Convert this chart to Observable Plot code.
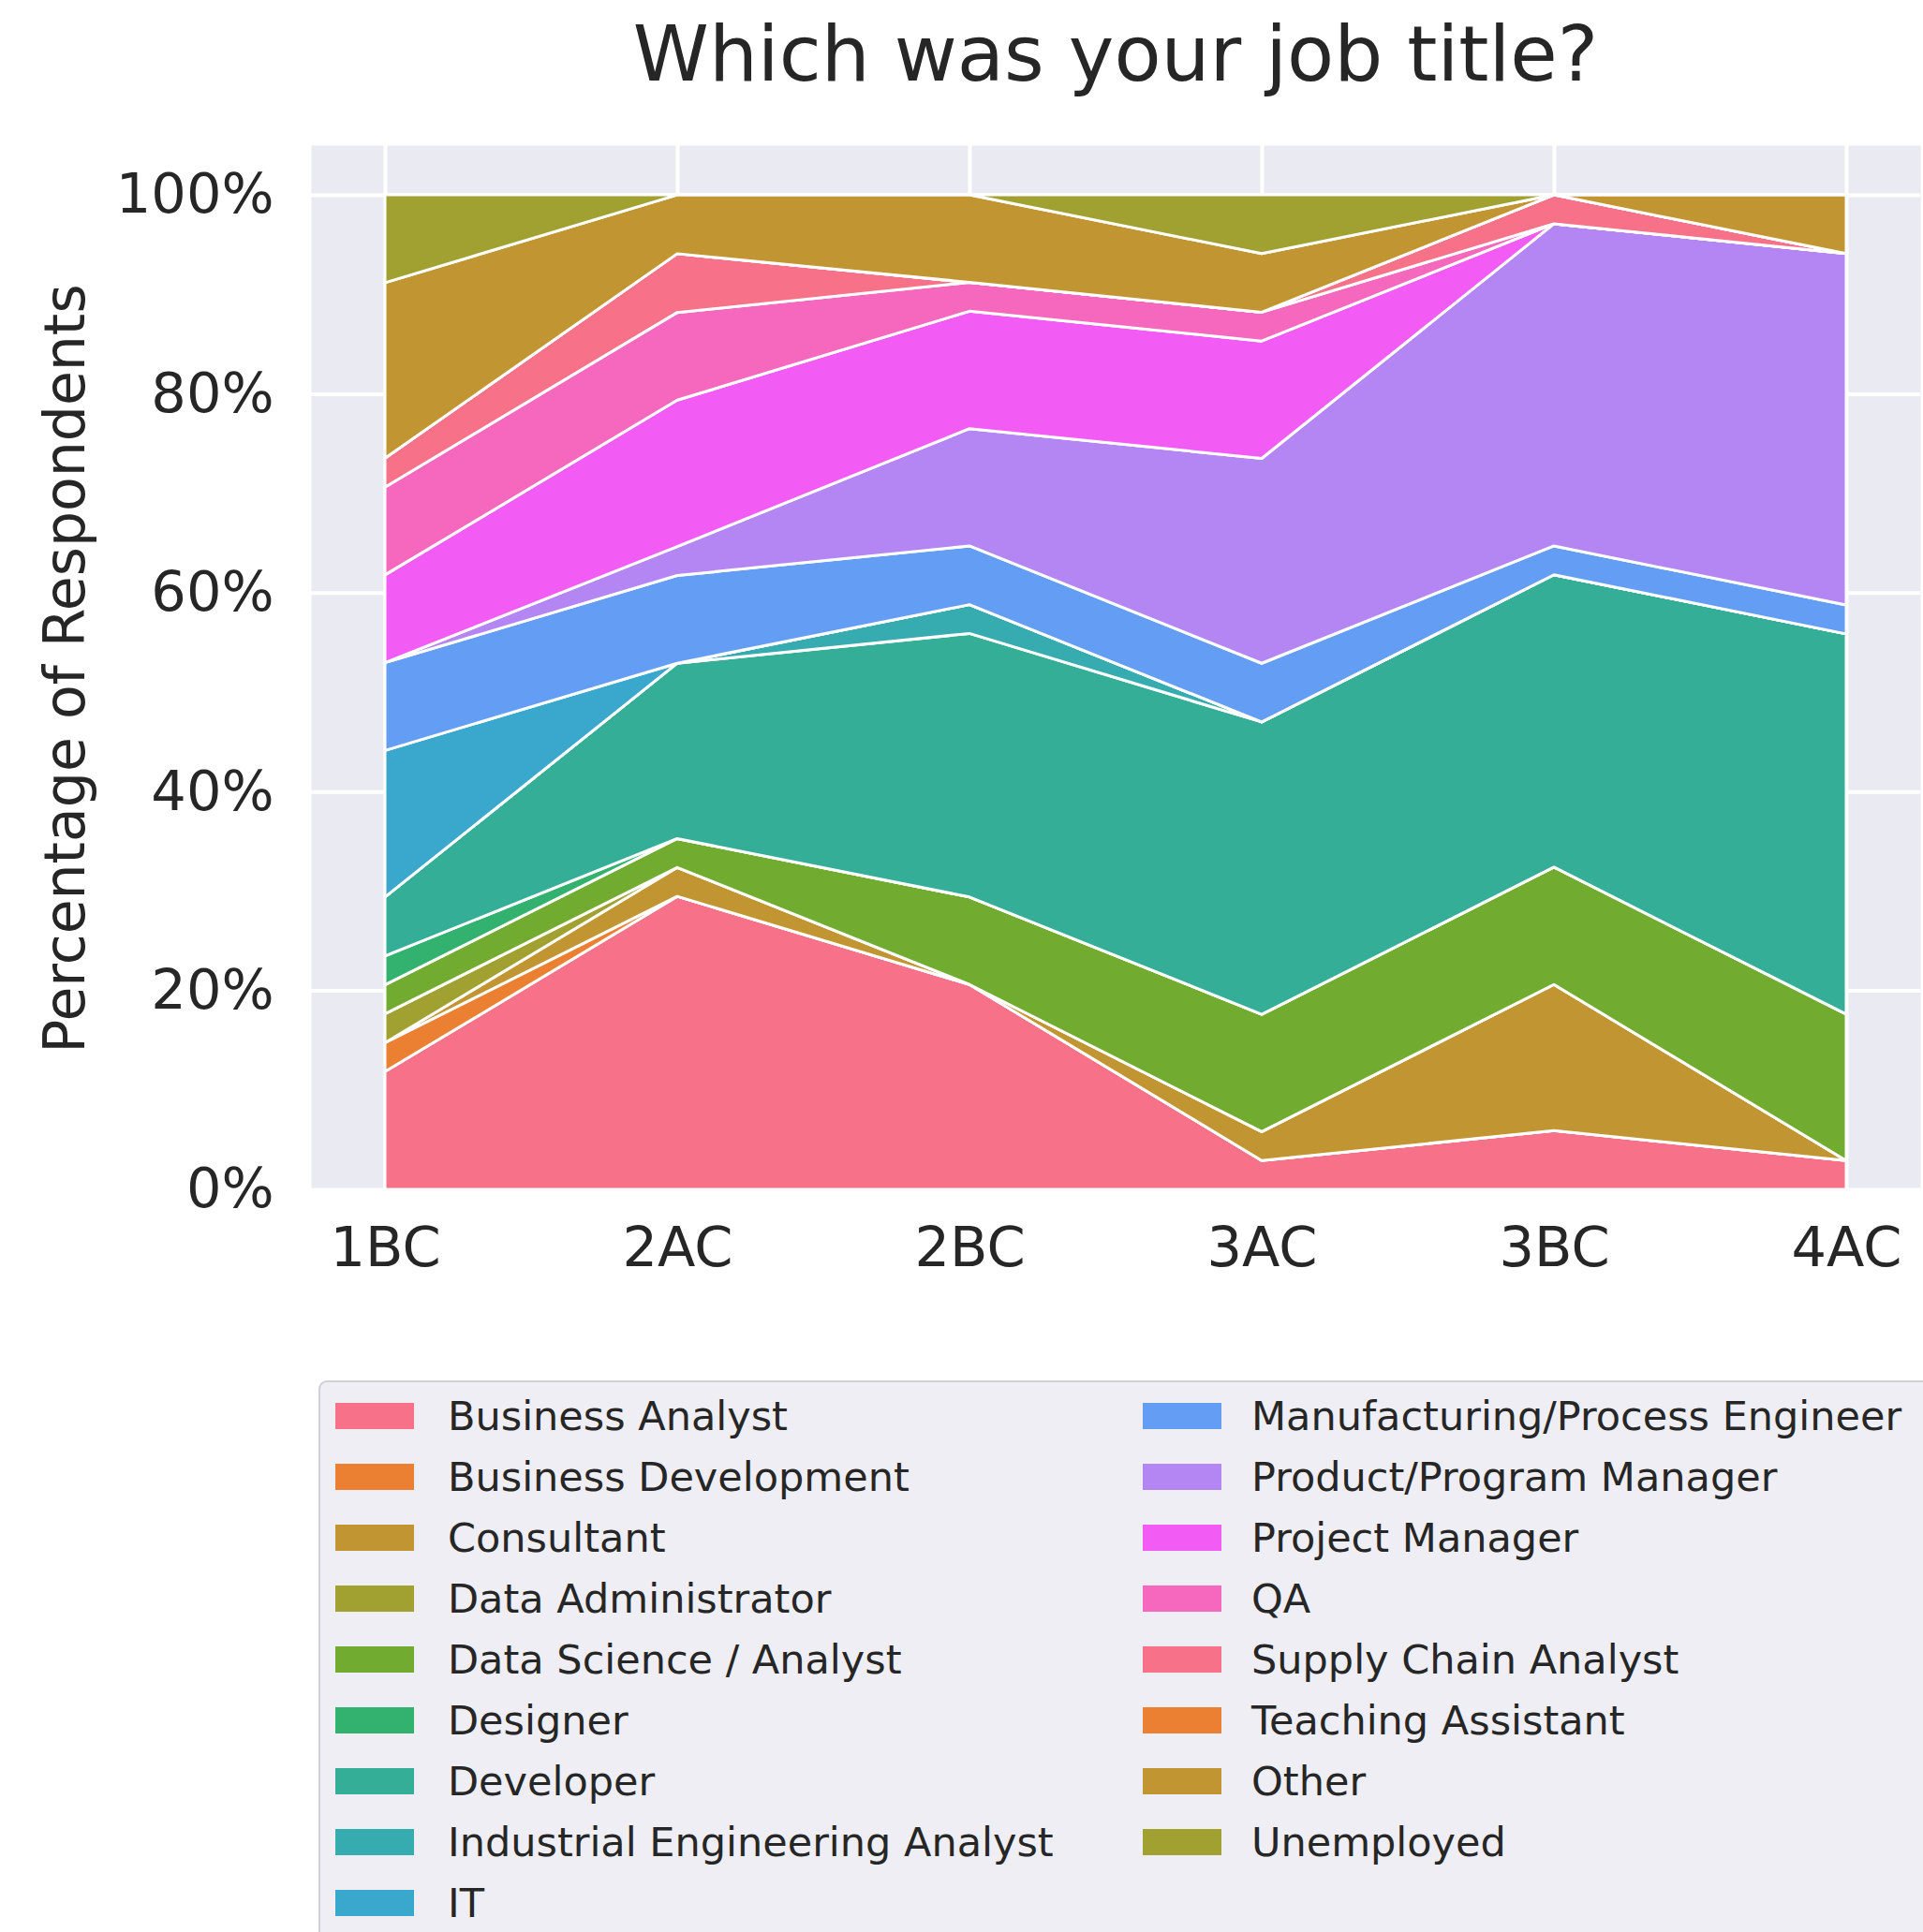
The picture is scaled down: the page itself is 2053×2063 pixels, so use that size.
<!DOCTYPE html>
<html>
<head>
<meta charset="utf-8">
<script src="https://cdn.jsdelivr.net/npm/d3@7"></script>
<script src="https://cdn.jsdelivr.net/npm/@observablehq/plot@0.6"></script>
<style>
  html, body { margin: 0; padding: 0; background: #ffffff; overflow: hidden; }
  #root { position: relative; width: 2053px; height: 2063px; overflow: hidden;
          font-family: "DejaVu Sans", sans-serif; color: #262626; background: #ffffff; }
  #title { position: absolute; left: 332px; width: 1718px; top: 17px; text-align: center;
           font-size: 82px; line-height: 82px; white-space: nowrap; }
  #ylabel { position: absolute; left: -431px; top: 684px; width: 1000px; height: 60px;
            line-height: 60px; font-size: 60px; text-align: center; white-space: nowrap;
            transform: rotate(-90deg); transform-origin: 50% 50%; }
  #chart { position: absolute; left: 0; top: 0; }
  #legend { position: absolute; left: 340px; top: 1474px; width: 1800px; height: 700px;
            background: #eeeef4; border: 2px solid #d0d0d6; border-radius: 9px; box-sizing: border-box; }
  .item { position: absolute; font-size: 43px; line-height: 43px; white-space: nowrap; }
  .sw { position: absolute; width: 84px; height: 28px; }
</style>
</head>
<body>
<div id="root">
  <div id="chart"></div>
  <div id="title"></div>
  <div id="ylabel"></div>
  <div id="legend"></div>
</div>
<script>
// ---------------- data (percent of respondents) ----------------
const chartTitle = "Which was your job title?";
const yLabel = "Percentage of Respondents";
const periods = ["1BC", "2AC", "2BC", "3AC", "3BC", "4AC"];
const jobTitles = [
  "Business Analyst", "Business Development", "Consultant", "Data Administrator",
  "Data Science / Analyst", "Designer", "Developer", "Industrial Engineering Analyst",
  "IT", "Manufacturing/Process Engineer", "Product/Program Manager", "Project Manager",
  "QA", "Supply Chain Analyst", "Teaching Assistant", "Other", "Unemployed"
];
const yTicks = [0, 0.2, 0.4, 0.6, 0.8, 1.0];

const businessAnalyst              = [11.8, 29.4, 20.6,  2.9,  5.9,  2.9];
const businessDevelopment          = [ 2.9,  0.0,  0.0,  0.0,  0.0,  0.0];
const consultant                   = [ 0.0,  2.9,  0.0,  2.9, 14.7,  0.0];
const dataAdministrator            = [ 2.9,  0.0,  0.0,  0.0,  0.0,  0.0];
const dataScienceAnalyst           = [ 2.9,  2.9,  8.8, 11.8, 11.8, 14.7];
const designer                     = [ 2.9,  0.0,  0.0,  0.0,  0.0,  0.0];
const developer                    = [ 5.9, 17.6, 26.5, 29.4, 29.4, 38.2];
const industrialEngineeringAnalyst = [ 0.0,  0.0,  2.9,  0.0,  0.0,  0.0];
const it                           = [14.7,  0.0,  0.0,  0.0,  0.0,  0.0];
const manufacturingProcessEngineer = [ 8.8,  8.8,  5.9,  5.9,  2.9,  2.9];
const productProgramManager        = [ 0.0,  2.9, 11.8, 20.6, 32.4, 35.3];
const projectManager               = [ 8.8, 14.7, 11.8, 11.8,  0.0,  0.0];
const qa                           = [ 8.8,  8.8,  2.9,  2.9,  0.0,  0.0];
const supplyChainAnalyst           = [ 2.9,  5.9,  0.0,  0.0,  2.9,  0.0];
const teachingAssistant            = [ 0.0,  0.0,  0.0,  0.0,  0.0,  0.0];
const other                        = [17.6,  5.9,  8.8,  5.9,  0.0,  5.9];
const unemployed                   = [ 8.8,  0.0,  0.0,  5.9,  0.0,  0.0];

const seriesValues = [
  businessAnalyst, businessDevelopment, consultant, dataAdministrator, dataScienceAnalyst,
  designer, developer, industrialEngineeringAnalyst, it, manufacturingProcessEngineer,
  productProgramManager, projectManager, qa, supplyChainAnalyst, teachingAssistant, other, unemployed
];

// ---------------- colours: seaborn husl palette (13 colours, cycled) ----------------
function huslToHex(H, S, L) {
  const m = [[3.2406, -1.5372, -0.4986], [-0.9689, 1.8758, 0.0415], [0.0557, -0.2040, 1.0570]];
  const refU = 0.19784, refV = 0.46834, labE = 0.008856, labK = 903.3;
  const hrad = H * Math.PI / 180, sinH = Math.sin(hrad), cosH = Math.cos(hrad);
  const sub1 = Math.pow(L + 16, 3) / 1560896.0;
  const sub2 = sub1 > labE ? sub1 : L / labK;
  let mx = Infinity;
  for (const [m1, m2, m3] of m) {
    const top = (0.99915 * m1 + 1.05122 * m2 + 1.14460 * m3) * sub2;
    const rbottom = 0.86330 * m3 - 0.17266 * m2;
    const lbottom = 0.12949 * m3 - 0.38848 * m1;
    const bottom = (rbottom * sinH + lbottom * cosH) * sub2;
    for (const t of [0, 1]) {
      const C = L * (top - 1.05122 * t) / (bottom + 0.17266 * sinH * t);
      if (C > 0 && C < mx) mx = C;
    }
  }
  const C = mx / 100 * S;
  const U = cosH * C, V = sinH * C;
  const tt = (L + 16) / 116;
  const Y = Math.pow(tt, 3) > labE ? Math.pow(tt, 3) : (116 * tt - 16) / labK;
  const varU = U / (13 * L) + refU, varV = V / (13 * L) + refV;
  const X = 0 - (9 * Y * varU) / ((varU - 4) * varV - varU * varV);
  const Z = (9 * Y - 15 * varV * Y - varV * X) / (3 * varV);
  const rgb = m.map(([a, b, c]) => {
    const v = a * X + b * Y + c * Z;
    const s = v <= 0.0031308 ? 12.92 * v : 1.055 * Math.pow(v, 1 / 2.4) - 0.055;
    return Math.round(Math.max(0, Math.min(1, s)) * 255);
  });
  return d3.rgb(rgb[0], rgb[1], rgb[2]).formatHex();
}
const nPalette = 13;
const palette = d3.range(nPalette).map(i => huslToHex(((i / nPalette + 0.01) % 1) * 359, 0.9 * 99, 0.65 * 99));
const colors = jobTitles.map((_, i) => palette[i % nPalette]);

// ---------------- tidy table ----------------
const rows = [];
jobTitles.forEach((t, i) => seriesValues[i].forEach((v, j) => rows.push({period: periods[j], title: t, value: v})));

const chart = Plot.plot({
  width: 2053,
  height: 1400,
  marginLeft: 332,
  marginRight: 3,
  marginTop: 155,
  marginBottom: 130,
  style: {fontFamily: "DejaVu Sans", color: "#262626", background: "transparent", overflow: "visible"},
  x: {type: "point", domain: periods, padding: 0.25},
  y: {domain: [0, 1.05]},
  color: {domain: jobTitles, range: colors},
  marks: [
    Plot.frame({fill: "#EAEAF2", stroke: null}),
    Plot.gridY(yTicks, {stroke: "#ffffff", strokeOpacity: 1, strokeWidth: 4}),
    Plot.gridX(periods, {stroke: "#ffffff", strokeOpacity: 1, strokeWidth: 4}),
    Plot.areaY(rows, Plot.stackY({
      x: "period", y: "value", z: "title", fill: "title", offset: "normalize",
      stroke: "#ffffff", strokeWidth: 3, strokeLinejoin: "round"
    })),
    Plot.axisY(yTicks, {tickFormat: d3.format(".0%"), tickSize: 0, tickPadding: 40, fontSize: 59, label: null}),
    Plot.axisX({tickSize: 0, tickPadding: 40, fontSize: 59, label: null})
  ]
});
document.getElementById("chart").appendChild(chart);
document.getElementById("title").textContent = chartTitle;
document.getElementById("ylabel").textContent = yLabel;

// ---------------- legend ----------------
const legend = document.getElementById("legend");
const perCol = 9;
jobTitles.forEach((t, i) => {
  const col = Math.floor(i / perCol), row = i % perCol;
  const cy = 36 + 65 * row;
  const sw = document.createElement("div");
  sw.className = "sw";
  sw.style.left = (col === 0 ? 16 : 878) + "px";
  sw.style.top = (cy - 14) + "px";
  sw.style.background = colors[i];
  legend.appendChild(sw);
  const tx = document.createElement("div");
  tx.className = "item";
  tx.style.left = (col === 0 ? 136 : 994) + "px";
  tx.style.top = (cy - 21) + "px";
  tx.textContent = t;
  legend.appendChild(tx);
});
</script>
</body>
</html>
